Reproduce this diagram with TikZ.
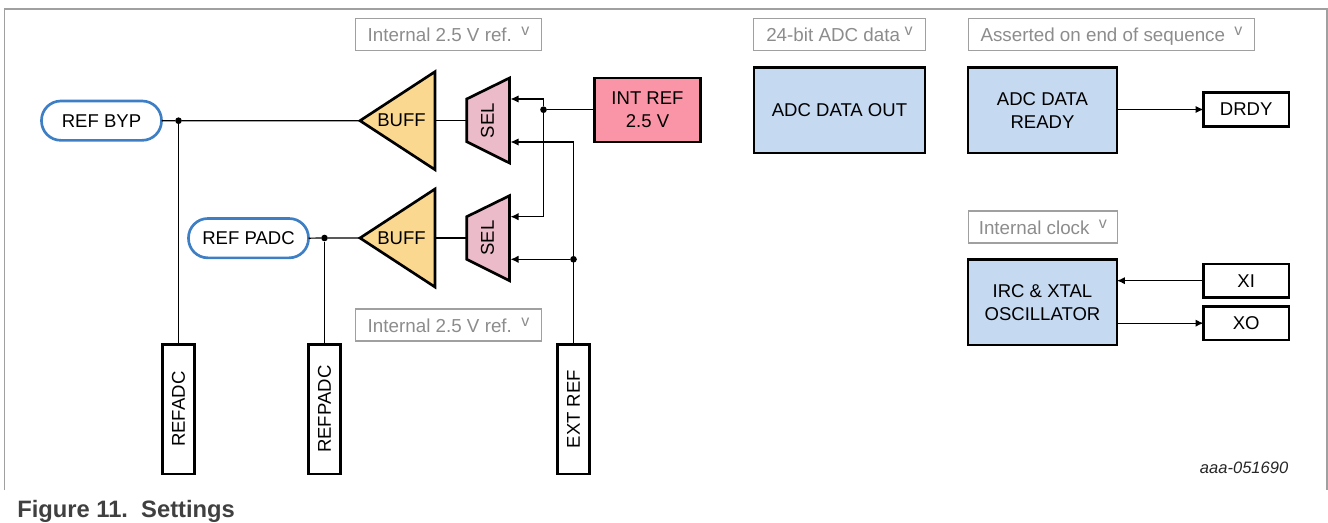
\documentclass[tikz,border=0pt]{standalone}
\usepackage{fontspec}
\setmainfont{Liberation Sans}
\usetikzlibrary{arrows.meta}
\definecolor{blockblue}{HTML}{C5D9F1}
\definecolor{buffyellow}{HTML}{FBD88F}
\definecolor{selpink}{HTML}{EBBBC9}
\definecolor{intred}{HTML}{F995A6}
\definecolor{pillblue}{HTML}{3D7EC4}
\definecolor{notegray}{HTML}{8C8C8C}
\definecolor{framegray}{HTML}{A0A0A0}
\definecolor{capgray}{HTML}{404040}
\newcommand{\chev}[1][7pt]{\hspace{#1}\raisebox{4.5pt}{\fontsize{12}{12}\selectfont v}}
\tikzset{
    txt/.style={font=\fontsize{13.9}{17.2}\selectfont, align=center, text=black},
    block/.style={txt, draw=black, line width=2pt, inner sep=0pt, outer sep=0pt, anchor=north west},
    pin/.style={block, fill=white},
    vpin/.style={txt, rotate=90, anchor=center},
    pill/.style={txt, draw=pillblue, line width=2pt, fill=white, rounded corners=14.5pt, inner sep=0pt, outer sep=0pt, anchor=north west},
    note/.style={font=\fontsize{14.1}{18}\selectfont, text=notegray, draw=framegray, line width=0.8pt, inner sep=0pt, outer sep=0pt, anchor=north west, text height=13pt, text depth=2.5pt},
    part/.style={draw=black, line width=2pt, line join=miter},
    wire/.style={draw=black, line width=0.9pt},
    arr/.style={wire, -{Latex[length=6pt,width=5.5pt]}},
    junction/.style={circle, fill=black, inner sep=0pt, minimum size=5pt},
}
\begin{document}
\begin{tikzpicture}[x=0.75pt, y=-0.75pt]
\useasboundingbox (0,0) rectangle (1328,522);
% frame
\draw [framegray, line width=0.9pt] (4.5,490) -- (4.5,9) -- (1327,9) -- (1327,490);
% notes
\node [note, minimum width=139.5pt, minimum height=24pt] (noteint) at (355.5,18.5) {Internal 2.5 V ref.\chev};
\node [note, minimum width=139.5pt, minimum height=24pt] (noteintb) at (355.5,309) {Internal 2.5 V ref.\chev};
\node [note, minimum width=129pt, minimum height=24pt] (noteadc) at (753.5,18.5) {24-bit ADC data\chev[3.5pt]};
\node [note, minimum width=214.5pt, minimum height=24pt] (noteend) at (968.5,18.5) {Asserted on end of sequence\chev};
\node [note, minimum width=111.5pt, minimum height=24pt] (noteclk) at (968.5,211) {Internal clock\chev};
% pads on the left
\node [pill, minimum width=90pt, minimum height=29.5pt] (refbyp) at (41.5,101) {REF BYP};
\node [pill, minimum width=90pt, minimum height=29.5pt] (refpadc) at (188.5,218.5) {REF PADC};
\node [block, fill=white, minimum width=24pt, minimum height=97pt] (pinrefadc) at (162.5,344.5) {};
\node [block, fill=white, minimum width=24pt, minimum height=97pt] (pinrefpadc) at (308.5,344.5) {};
\node [block, fill=white, minimum width=24pt, minimum height=97pt] (pinextref) at (557.5,344.5) {};
\node [vpin] at (pinrefadc.center) {REFADC};
\node [vpin] at (pinrefpadc.center) {REFPADC};
\node [vpin] at (pinextref.center) {EXT REF};
% buffers
\coordinate (buffa) at (360,120.7);
\coordinate (buffaout) at (435,120.7);
\coordinate (buffb) at (360,238);
\coordinate (buffbout) at (435,238);
\draw [part, fill=buffyellow] (buffa) -- (435,71.7) -- (435,169.7) -- cycle;
\draw [part, fill=buffyellow] (buffb) -- (435,189) -- (435,287) -- cycle;
\node [txt] at (401.5,120.7) {BUFF};
\node [txt] at (401.5,238) {BUFF};
% selectors
\coordinate (sela) at (466.7,120.7);
\coordinate (selb) at (466.7,238);
\coordinate (selaup) at (510.5,99);
\coordinate (seladown) at (510.5,142);
\coordinate (selbup) at (510.5,216.7);
\coordinate (selbdown) at (510.5,259.3);
\draw [part, fill=selpink] (466.7,99) -- (509.5,78) -- (509.5,163) -- (466.7,141.7) -- cycle;
\draw [part, fill=selpink] (466.7,216.7) -- (509.5,195.7) -- (509.5,280.7) -- (466.7,259.3) -- cycle;
\node [txt, rotate=90] at (487.5,120.7) {SEL};
\node [txt, rotate=90] at (487.5,238) {SEL};
% blocks
\node [block, fill=intred, minimum width=79.5pt, minimum height=48pt] (intref) at (594.5,78) {INT REF\\2.5 V};
\node [block, fill=blockblue, minimum width=128.2pt, minimum height=64pt] (adcout) at (754,67.5) {ADC DATA OUT};
\node [block, fill=blockblue, minimum width=111.7pt, minimum height=64pt] (adcrdy) at (968,67.5) {ADC DATA\\READY};
\node [block, fill=blockblue, minimum width=111.7pt, minimum height=64pt] (irc) at (968,259.5) {IRC \& XTAL\\OSCILLATOR};
\node [pin, minimum width=64pt, minimum height=25.5pt] (drdy) at (1203.5,92.5) {DRDY};
\node [pin, minimum width=64pt, minimum height=25pt] (xi) at (1203.5,264) {XI};
\node [pin, minimum width=64pt, minimum height=25pt] (xo) at (1203.5,306.5) {XO};
% junctions
\node [junction] (jbyp) at (178.5,120.7) {};
\node [junction] (jpadc) at (324.5,238) {};
\node [junction] (jint) at (543.5,109.7) {};
\node [junction] (jext) at (573.5,259.3) {};
% wires
\draw [wire] (refbyp.east) -- (jbyp) -- (buffa);
\draw [wire] (jbyp) -- (jbyp |- pinrefadc.north);
\draw [wire] (refpadc.east) -- (jpadc) -- (buffb);
\draw [wire] (jpadc) -- (jpadc |- pinrefpadc.north);
\draw [wire] (buffaout) -- (sela);
\draw [wire] (buffbout) -- (selb);
\draw [wire] (intref.west |- jint) -- (jint);
\draw [arr] (jint) |- (selaup);
\draw [arr] (jint) |- (selbup);
\draw [arr] (jext |- pinextref.north) |- (seladown);
\draw [arr] (jext) -- (selbdown);
\draw [arr] (adcrdy.east |- drdy.west) -- (drdy.west);
\draw [arr] (xi.west) -- (irc.east |- xi.west);
\draw [arr] (irc.east |- xo.west) -- (xo.west);
% labels
\node [font=\fontsize{12.4}{14}\selectfont\itshape, anchor=east, inner sep=0pt, text=black!85] (docid) at (1288.5,467.5) {aaa-051690};
\node [font=\fontsize{17.8}{20}\selectfont\bfseries, anchor=west, inner sep=0pt, text=capgray] (caption) at (17,511) {Figure 11.\ \ Settings};
\end{tikzpicture}
\end{document}
